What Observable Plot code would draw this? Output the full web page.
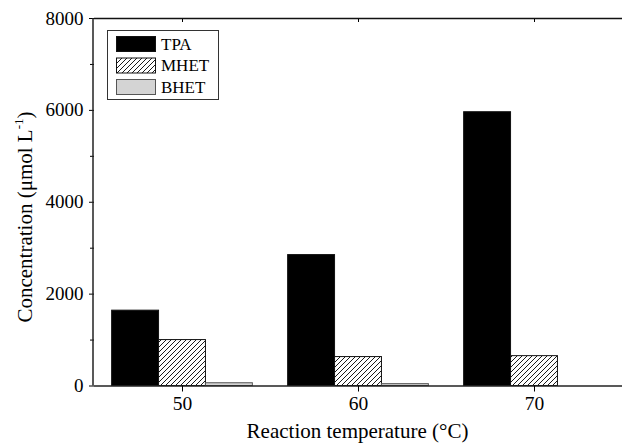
<!DOCTYPE html>
<html>
<head>
<meta charset="utf-8">
<script src="https://cdn.jsdelivr.net/npm/d3@7"></script>
<script src="https://cdn.jsdelivr.net/npm/@observablehq/plot@0.6"></script>
<style>
  html, body { margin: 0; padding: 0; background: #fff; }
  #chart { position: relative; width: 622px; height: 444px; }
</style>
</head>
<body>
<div id="chart"></div>
<script>
// ---- data ----
const temperatures = [50, 60, 70];
const species = ["TPA", "MHET", "BHET"];
const tpaValues = [1640, 2850, 5960];
const mhetValues = [1000, 630, 650];
const bhetValues = [60, 40, 0];
const yTicksMajor = [0, 2000, 4000, 6000, 8000];
const yTicksMinor = [1000, 3000, 5000, 7000];
const xLabel = "Reaction temperature (°C)";

// table built from arrays
const seriesValues = {TPA: tpaValues, MHET: mhetValues, BHET: bhetValues};
const rows = [];
temperatures.forEach((t, i) => species.forEach(s => rows.push({temp: t, species: s, value: seriesValues[s][i]})));

const fills = {TPA: "#000000", MHET: "url(#hatch)", BHET: "#d4d4d4"};
const strokes = {TPA: "#111111", MHET: "#111111", BHET: "#555555"};

const FONT = "'Liberation Serif', 'Times New Roman', serif";
const W = 622, H = 444;
const mL = 93, mR = 0, mT = 18, mB = 58.5;

const barMarks = species.map(s => Plot.barY(rows, {
  filter: d => d.species === s,
  fx: "temp", x: "species", y: "value",
  fill: fills[s], stroke: strokes[s], strokeWidth: 1
}));

const chart = Plot.plot({
  width: W, height: H,
  marginLeft: mL, marginRight: mR, marginTop: mT, marginBottom: mB,
  style: {fontFamily: FONT, fontSize: "19px", color: "#000", background: "#fff"},
  fx: {domain: temperatures, padding: 0, label: null},
  x: {domain: species, paddingInner: 0, paddingOuter: 0.376, axis: null, round: false},
  y: {domain: [0, 8000], label: null},
  marks: [
    ...barMarks,
    Plot.ruleY([0], {stroke: "#222", strokeWidth: 1.5}),
    Plot.ruleY([8000], {stroke: "#111", strokeWidth: 1.5}),
    Plot.axisY({ticks: yTicksMajor, tickSize: 5, tickPadding: 6, label: null, tickFormat: d => String(d), fontSize: 19}),
    Plot.axisY({ticks: yTicksMinor, tickSize: 4, label: null, tickFormat: () => ""}),
    Plot.axisFx({anchor: "bottom", tickSize: 6, tickPadding: 4, label: null, fontSize: 19.5}),
    Plot.axisFx({anchor: "top", tickSize: 3, dy: 3, label: null, tickFormat: () => ""})
  ]
});

const svg = d3.select(chart.tagName.toLowerCase() === "svg" ? chart : chart.querySelector("svg"));

// pattern definition for the hatched series
const defs = svg.insert("defs", ":first-child");
const pat = defs.append("pattern").attr("id", "hatch")
  .attr("patternUnits", "userSpaceOnUse").attr("width", 5).attr("height", 5);
pat.append("rect").attr("width", 5).attr("height", 5).attr("fill", "#fff");
pat.append("path").attr("d", "M-1,1 L1,-1 M0,5 L5,0 M4,6 L6,4")
  .attr("stroke", "#000").attr("stroke-width", 0.9);

// left axis line
svg.append("line").attr("x1", mL).attr("x2", mL).attr("y1", mT).attr("y2", H - mB)
  .attr("stroke", "#222").attr("stroke-width", 1.5);

// x-axis title
svg.append("text")
  .attr("x", (mL + W - mR) / 2).attr("y", 438)
  .attr("text-anchor", "middle").attr("font-family", FONT)
  .attr("font-size", 21).attr("fill", "#000").text(xLabel);

// y-axis title with superscript
const yt = svg.append("text")
  .attr("transform", "translate(32,217) rotate(-90)")
  .attr("text-anchor", "middle")
  .attr("font-family", FONT)
  .attr("font-size", 21).attr("fill", "#000");
yt.append("tspan").text("Concentration (μmol L");
yt.append("tspan").attr("font-size", 13).attr("dy", -9).text("-1");
yt.append("tspan").attr("dy", 9).text(")");

// legend
const lg = svg.append("g").attr("font-family", FONT).attr("font-size", 17).attr("text-anchor", "start");
lg.append("rect").attr("x", 107.5).attr("y", 30.5).attr("width", 111).attr("height", 69)
  .attr("fill", "#fff").attr("stroke", "#333").attr("stroke-width", 1);
species.forEach((s, i) => {
  const y = 36.5 + i * 21.5;
  lg.append("rect").attr("x", 116.5).attr("y", y).attr("width", 39).attr("height", 15)
    .attr("fill", fills[s]).attr("stroke", strokes[s]).attr("stroke-width", 1);
  lg.append("text").attr("x", 161).attr("y", y + 7.5).attr("dy", "0.35em")
    .attr("text-anchor", "start").attr("fill", "#000").text(s);
});

document.getElementById("chart").appendChild(chart);
</script>
</body>
</html>
